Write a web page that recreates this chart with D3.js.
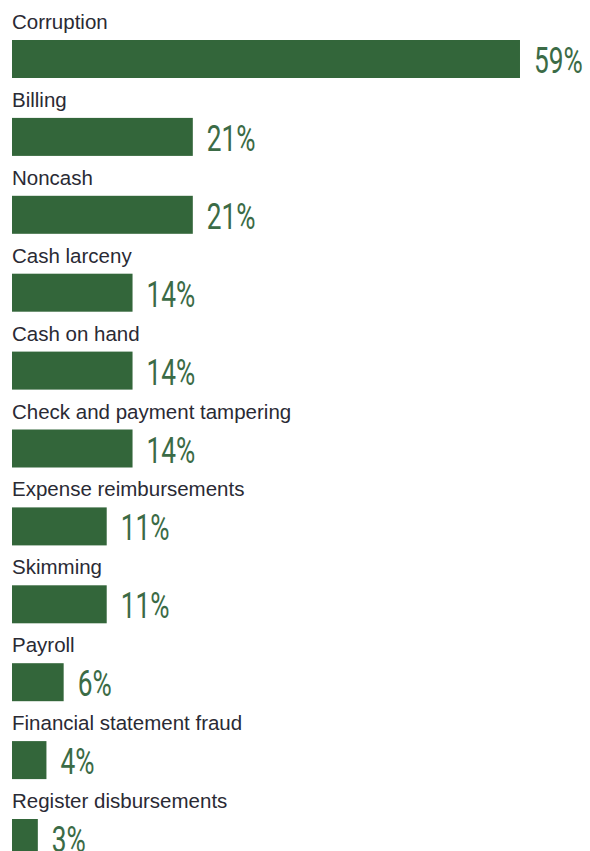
<!DOCTYPE html>
<html>
<head>
<meta charset="utf-8">
<script src="https://cdn.jsdelivr.net/npm/d3@7"></script>
<style>
  html, body { margin: 0; padding: 0; background: #ffffff; }
  svg { display: block; }
</style>
</head>
<body>
<svg id="chart" width="590" height="851"></svg>
<script>
// Share of cases by fraud scheme type
const categories = [
  "Corruption",
  "Billing",
  "Noncash",
  "Cash larceny",
  "Cash on hand",
  "Check and payment tampering",
  "Expense reimbursements",
  "Skimming",
  "Payroll",
  "Financial statement fraud",
  "Register disbursements"
];
const values = [59, 21, 21, 14, 14, 14, 11, 11, 6, 4, 3];
const valueLabels = ["59%", "21%", "21%", "14%", "14%", "14%", "11%", "11%", "6%", "4%", "3%"];

const rows = categories.map((c, i) => ({ cat: c, value: values[i], label: valueLabels[i] }));

const svg = d3.select("#chart");
const left = 12;

const x = d3.scaleLinear().domain([0, 100]).range([0, 861]);

const step = 77.9;
const barH = 38;
const y = d3.scaleBand()
  .domain(categories)
  .range([40, 40 + step * (categories.length - (1 - barH / step))])
  .paddingInner(1 - barH / step)
  .paddingOuter(0);

const g = svg.append("g").selectAll("g")
  .data(rows)
  .join("g");

// bars
g.append("rect")
  .attr("x", left)
  .attr("y", d => y(d.cat))
  .attr("width", d => x(d.value))
  .attr("height", y.bandwidth())
  .attr("fill", "#33663a");

// category names above each bar
g.append("text")
  .attr("x", left)
  .attr("y", d => y(d.cat) - 11)
  .attr("font-family", "'Liberation Sans', Arial, sans-serif")
  .attr("font-size", 20.5)
  .attr("fill", "#2a2a34")
  .text(d => d.cat);

// percentage values to the right of each bar, in a narrow setting
g.append("text")
  .attr("transform", d => `translate(${left + x(d.value) + 14},${y(d.cat) + 33}) scale(0.73,1)`)
  .attr("font-family", "Roboto, 'Liberation Sans', sans-serif")
  .attr("font-size", 36)
  .attr("fill", "#3b6b46")
  .text(d => d.label);
</script>
</body>
</html>
